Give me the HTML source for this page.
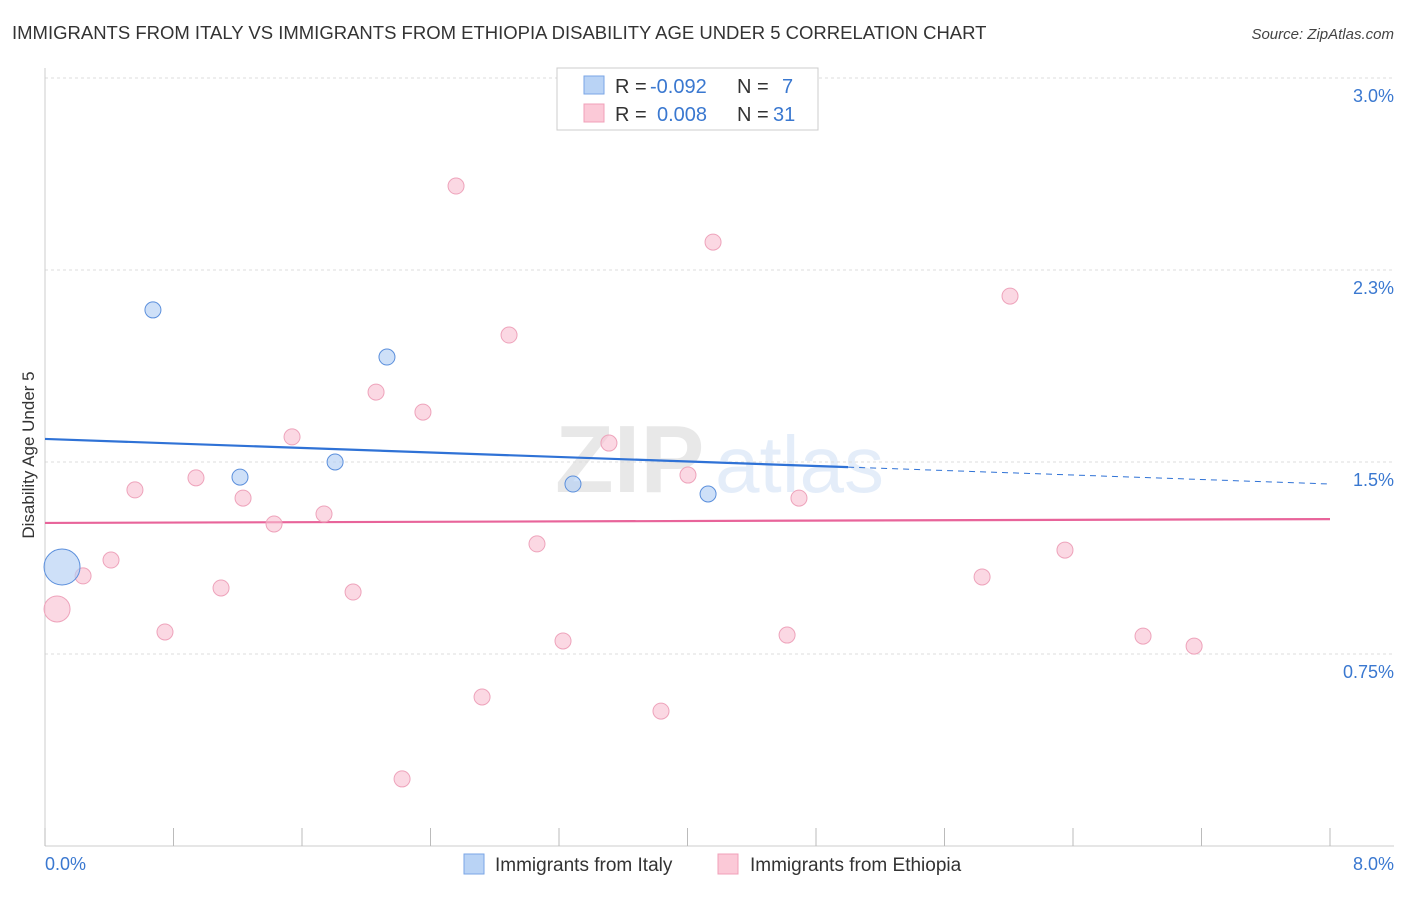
<!DOCTYPE html>
<html><head><meta charset="utf-8"><style>
body{margin:0;background:#fff;font-family:"Liberation Sans",sans-serif;}
svg text{font-family:"Liberation Sans",sans-serif;}
</style></head><body>
<svg id="chart" width="1406" height="892" xmlns="http://www.w3.org/2000/svg">
<text x="12" y="39" font-size="18.5" fill="#333">IMMIGRANTS FROM ITALY VS IMMIGRANTS FROM ETHIOPIA DISABILITY AGE UNDER 5 CORRELATION CHART</text>
<text x="1394" y="39" font-size="15" fill="#444" text-anchor="end" font-style="italic">Source: ZipAtlas.com</text>
<g opacity="0.13">
<text x="555" y="492" font-size="96" font-family="Liberation Serif" fill="#555" font-weight="bold">ZIP</text>
<text x="715" y="492" font-size="80" fill="#3a7bd5">atlas</text>
</g>
<g id="grid"></g>
<line x1="45" y1="846" x2="1394" y2="846" stroke="#ccc"/>
<line x1="45" y1="68" x2="45" y2="846" stroke="#ccc"/>
<g id="ticks"></g>
<text transform="translate(34,455) rotate(-90)" font-size="17" fill="#333" text-anchor="middle">Disability Age Under 5</text>
<text x="45" y="870" font-size="18" fill="#3a78d0">0.0%</text>
<text x="1394" y="870" font-size="18" fill="#3a78d0" text-anchor="end">8.0%</text>
<g id="lines"></g>
<g id="points"></g>
<g font-size="20">
<rect x="557" y="68" width="261" height="62" fill="#fff" stroke="#ccc"/>
<rect x="584" y="76" width="20" height="18" fill="#b9d3f5" stroke="#7aa6e6"/>
<rect x="584" y="104" width="20" height="18" fill="#fbc9d7" stroke="#f0a0b8"/>
<text x="615" y="93" fill="#333">R =</text>
<text x="650" y="93" fill="#3a78d0">-0.092</text>
<text x="737" y="93" fill="#333">N =</text>
<text x="782" y="93" fill="#3a78d0">7</text>
<text x="615" y="121" fill="#333">R =</text>
<text x="657" y="121" fill="#3a78d0">0.008</text>
<text x="737" y="121" fill="#333">N =</text>
<text x="773" y="121" fill="#3a78d0">31</text>
</g>
<g>
<rect x="464" y="854" width="20" height="20" fill="#b9d3f5" stroke="#7aa6e6"/>
<text x="495" y="871" font-size="19" fill="#333">Immigrants from Italy</text>
<rect x="718" y="854" width="20" height="20" fill="#fbc9d7" stroke="#f0a0b8"/>
<text x="750" y="871" font-size="19" fill="#333">Immigrants from Ethiopia</text>
</g>
</svg>
<script>
const yTicks=[0.75,1.5,2.25,3.0];
const yTickLabels=["0.75%","1.5%","2.3%","3.0%"];
const xTicks=[0,0.8,1.6,2.4,3.2,4.0,4.8,5.6,6.4,7.2,8.0];
const italyX=[0.672,1.214,1.806,2.129,3.287,4.128,0.106];
const italyY=[2.094,1.441,1.500,1.910,1.414,1.375,1.090];
const italyR=[8,8,8,8,8,8,18];
const ethX=[0.075,0.237,0.411,0.560,0.747,0.940,1.096,1.233,1.426,1.538,1.737,1.918,2.061,2.223,2.353,2.559,2.721,2.889,3.063,3.225,3.511,3.835,4.003,4.159,4.620,4.694,5.834,6.008,6.350,6.836,7.154];
const ethY=[0.926,1.055,1.117,1.391,0.836,1.438,1.008,1.359,1.258,1.598,1.297,0.992,1.773,0.262,1.695,2.578,0.582,1.996,1.180,0.801,1.574,0.527,1.449,2.359,0.824,1.359,1.051,2.148,1.156,0.820,0.781];
const ethR=[13,8,8,8,8,8,8,8,8,8,8,8,8,8,8,8,8,8,8,8,8,8,8,8,8,8,8,8,8,8,8];
const italyTrend=[1.590,1.414];
const ethTrend=[1.262,1.277];
const italySolidEnd=5.0;
const NS="http://www.w3.org/2000/svg";
const X=v=>45+v/8*1285;
const Y=v=>846-v/0.75*192;
function mk(t,a,p){const e=document.createElementNS(NS,t);for(const k in a)e.setAttribute(k,a[k]);p.appendChild(e);return e;}
const grid=document.getElementById('grid');
yTicks.forEach((v,i)=>{
 const l=mk('line',{x1:45,x2:1394,y1:Y(v),y2:Y(v),stroke:'#ddd','stroke-dasharray':'3,3'},grid);
 
 
 const t=mk('text',{x:1394,y:Y(v)+24,'font-size':18,fill:'#3a78d0','text-anchor':'end'},grid);
 t.textContent=yTickLabels[i];
 
 
});
const ticks=document.getElementById('ticks');
xTicks.forEach(v=>{
 const l=mk('line',{x1:X(v),x2:X(v),y1:828,y2:846,stroke:'#bbb'},ticks);
 
 
});
const lines=document.getElementById('lines');
const lerp=(a,b,x)=>a+(b-a)*x/8;
let b1=mk('line',{x1:X(0),y1:Y(italyTrend[0]),x2:X(italySolidEnd),y2:Y(lerp(italyTrend[0],italyTrend[1],italySolidEnd)),stroke:'#2f72d6','stroke-width':2.2},lines);


let b2=mk('line',{x1:X(italySolidEnd),y1:Y(lerp(italyTrend[0],italyTrend[1],italySolidEnd)),x2:X(8),y2:Y(italyTrend[1]),stroke:'#2f72d6','stroke-width':1,'stroke-dasharray':'6,5'},lines);


let p1=mk('line',{x1:X(0),y1:Y(ethTrend[0]),x2:X(8),y2:Y(ethTrend[1]),stroke:'#e8649a','stroke-width':2.2},lines);


const pts=document.getElementById('points');
ethX.forEach((v,i)=>{
 const c=mk('circle',{cx:X(v),cy:Y(ethY[i]),r:ethR[i],fill:'rgba(248,190,208,0.6)',stroke:'#eea3bb','stroke-width':1},pts);
 
 
});
italyX.forEach((v,i)=>{
 const c=mk('circle',{cx:X(v),cy:Y(italyY[i]),r:italyR[i],fill:'rgba(180,208,245,0.65)',stroke:'#5b8fdc','stroke-width':1},pts);
 
 
});
</script>
</body></html>
